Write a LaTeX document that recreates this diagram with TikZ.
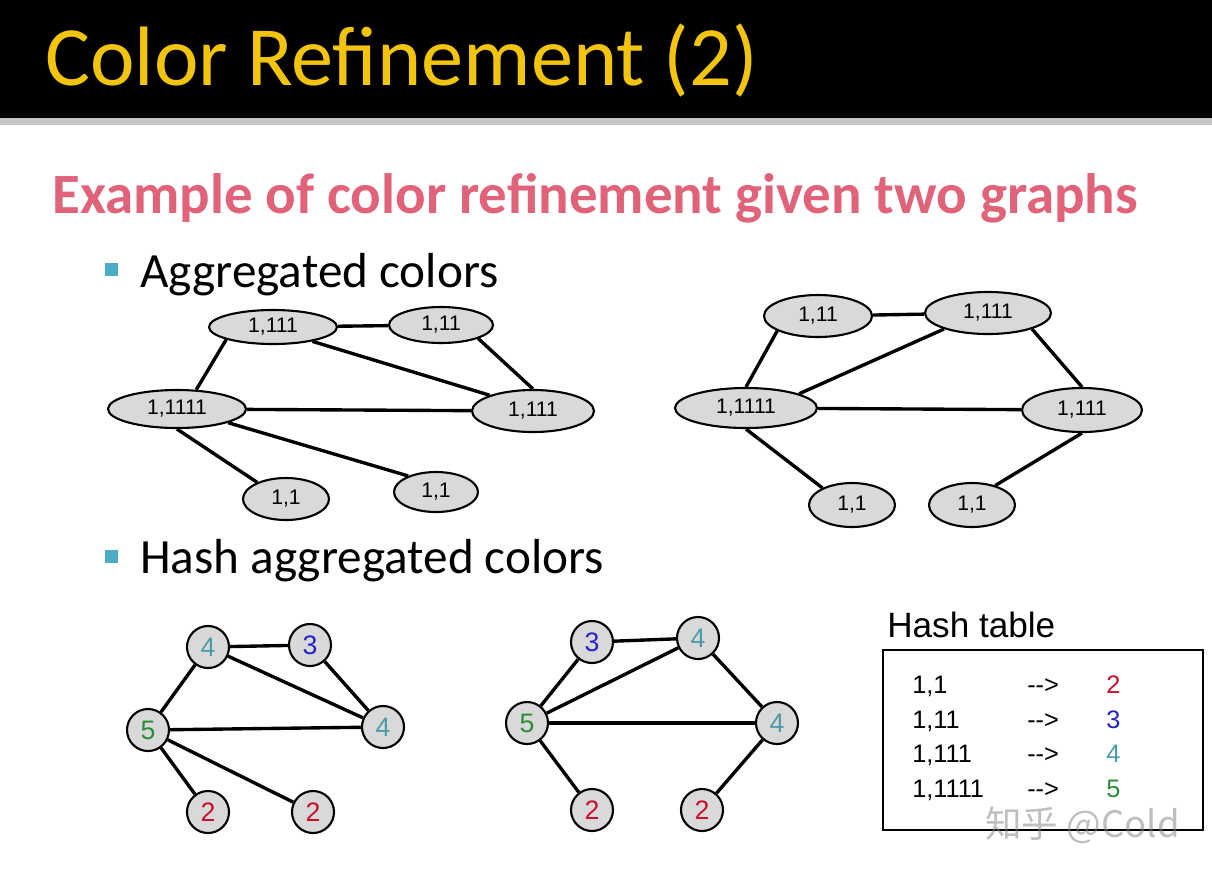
\documentclass[tikz,border=0pt]{standalone}
\usepackage{fontspec}
\setmainfont{Carlito}
\newfontfamily\arial{Liberation Sans}
\newfontfamily\cjk{Noto Sans CJK SC}
\usetikzlibrary{shapes.geometric}
\definecolor{titlegold}{HTML}{F2C40E}
\definecolor{subpink}{HTML}{E0637A}
\definecolor{bullet}{HTML}{4BACC6}
\definecolor{blob}{HTML}{D9D9D9}
\definecolor{hred}{HTML}{C8102E}
\definecolor{hblue}{HTML}{2323C8}
\definecolor{hteal}{HTML}{4C9CA8}
\definecolor{hgreen}{HTML}{2E8B3A}

\begin{document}
\begin{tikzpicture}[
  x=0.025cm,y=-0.025cm,
  agg/.style 2 args={draw,ellipse,fill=blob,line width=1.5pt,inner sep=0pt,
    minimum width=#1*0.025cm,minimum height=#2*0.025cm,
    font=\arial\fontsize{15}{15}\selectfont},
  hsh/.style={draw,circle,fill=blob,line width=1.5pt,inner sep=0pt,
    minimum size=1.05cm,font=\arial\fontsize{19}{19}\selectfont,text=#1},
  ln/.style={line width=2.4pt},
  lbl/.style={anchor=base west,inner sep=0pt},
  sq/.style={fill=bullet,inner sep=0pt,minimum size=0.33cm},
  row/.style={lbl,font=\arial\fontsize{18}{18}\selectfont}
]
\useasboundingbox (0,0) rectangle (1212,871);
\fill[white] (0,0) rectangle (1212,871);

% header band
\fill[black] (0,0) rectangle (1212,118);
\fill[gray!45] (0,118) rectangle (1212,125);
\node[lbl,text=titlegold,font=\fontsize{60}{60}\selectfont] (title) at (45,85)
  {Color Refinement (2)};
\node[lbl,text=subpink,font=\bfseries\fontsize{40.5}{40.5}\selectfont] (sub) at (52,213)
  {Example of color refinement given two graphs};

% bullets
\node[sq] (b1) at (111.5,269.5) {};
\node[lbl,font=\fontsize{35}{35}\selectfont] (agghead) at (140,287) {Aggregated colors};
\node[sq] (b2) at (111.5,556.5) {};
\node[lbl,font=\fontsize{35}{35}\selectfont] (hashhead) at (140,573) {Hash aggregated colors};

% first graph, aggregated
\node[agg={128}{34}] (A) at (273,327) {1,111};
\node[agg={104}{36}] (B) at (441,325) {1,11};
\node[agg={138}{38}] (C) at (177,409) {1,1111};
\node[agg={122}{42}] (D) at (533,411) {1,111};
\node[agg={86}{42}] (E) at (286,499) {1,1};
\node[agg={84}{40}] (F) at (436,492) {1,1};

\draw[ln] (A) -- (B);
\draw[ln] (A.-165) -- (C.45);
\draw[ln] (A.-20) -- (D.160);
\draw[ln] (B.-20) -- (D.90);
\draw[ln] (C) -- (D);
\draw[ln] (C.-90) -- (E.150);
\draw[ln] (C.-15) -- (F.150);

% second graph, aggregated
\node[agg={108}{42}] (G) at (818,316) {1,11};
\node[agg={126}{42}] (H) at (988,313) {1,111};
\node[agg={142}{40}] (I) at (746,408) {1,1111};
\node[agg={120}{44}] (J) at (1082,410) {1,111};
\node[agg={86}{44}] (K) at (852,505) {1,1};
\node[agg={86}{44}] (L) at (972,505) {1,1};

\draw[ln] (G) -- (H);
\draw[ln] (G.-160) -- (I.90);
\draw[ln] (H.-160) -- (I.15);
\draw[ln] (H.-20) -- (J.90);
\draw[ln] (I) -- (J);
\draw[ln] (I.-90) -- (K.150);
\draw[ln] (J.-90) -- (L.40);

% first graph, hashed
\node[hsh=hteal] (a) at (208,647) {4};
\node[hsh=hblue] (b) at (310,645) {3};
\node[hsh=hgreen] (c) at (148,730) {5};
\node[hsh=hteal] (d) at (383,727) {4};
\node[hsh=hred] (e) at (208,812) {2};
\node[hsh=hred] (f) at (313,812) {2};

\draw[ln] (a) -- (b);
\draw[ln] (a) -- (c);
\draw[ln] (a) -- (d);
\draw[ln] (b) -- (d);
\draw[ln] (c) -- (d);
\draw[ln] (c) -- (e);
\draw[ln] (c) -- (f);

% second graph, hashed
\node[hsh=hblue] (g) at (592,642) {3};
\node[hsh=hteal] (h) at (698,638) {4};
\node[hsh=hgreen] (i) at (527,723) {5};
\node[hsh=hteal] (j) at (777,723) {4};
\node[hsh=hred] (k) at (592,810) {2};
\node[hsh=hred] (l) at (702,810) {2};

\draw[ln] (g) -- (h);
\draw[ln] (g) -- (i);
\draw[ln] (h) -- (i);
\draw[ln] (h) -- (j);
\draw[ln] (i) -- (j);
\draw[ln] (i) -- (k);
\draw[ln] (j) -- (l);

% hash table
\node[lbl,font=\arial\fontsize{25}{25}\selectfont] (htitle) at (887,637) {Hash table};
\node[draw,line width=1.5pt,inner sep=0pt,minimum width=8cm,minimum height=4.5cm]
  (tbl) at (1043,740) {};
\node[row] (k1) at (912,693) {1,1};
\node[row] (k2) at (912,728) {1,11};
\node[row] (k3) at (912,762) {1,111};
\node[row] (k4) at (912,797) {1,1111};
\node[row] (r1) at (1027,693) {-{}->};
\node[row] (r2) at (1027,728) {-{}->};
\node[row] (r3) at (1027,762) {-{}->};
\node[row] (r4) at (1027,797) {-{}->};
\node[row,text=hred] (v1) at (1106,693) {2};
\node[row,text=hblue] (v2) at (1106,728) {3};
\node[row,text=hteal] (v3) at (1106,762) {4};
\node[row,text=hgreen] (v4) at (1106,797) {5};

\node[lbl,text=gray,opacity=0.5,font=\cjk\fontsize{26}{26}\selectfont] (wm) at (985,837)
  {知乎 @Cold};
\end{tikzpicture}
\end{document}
